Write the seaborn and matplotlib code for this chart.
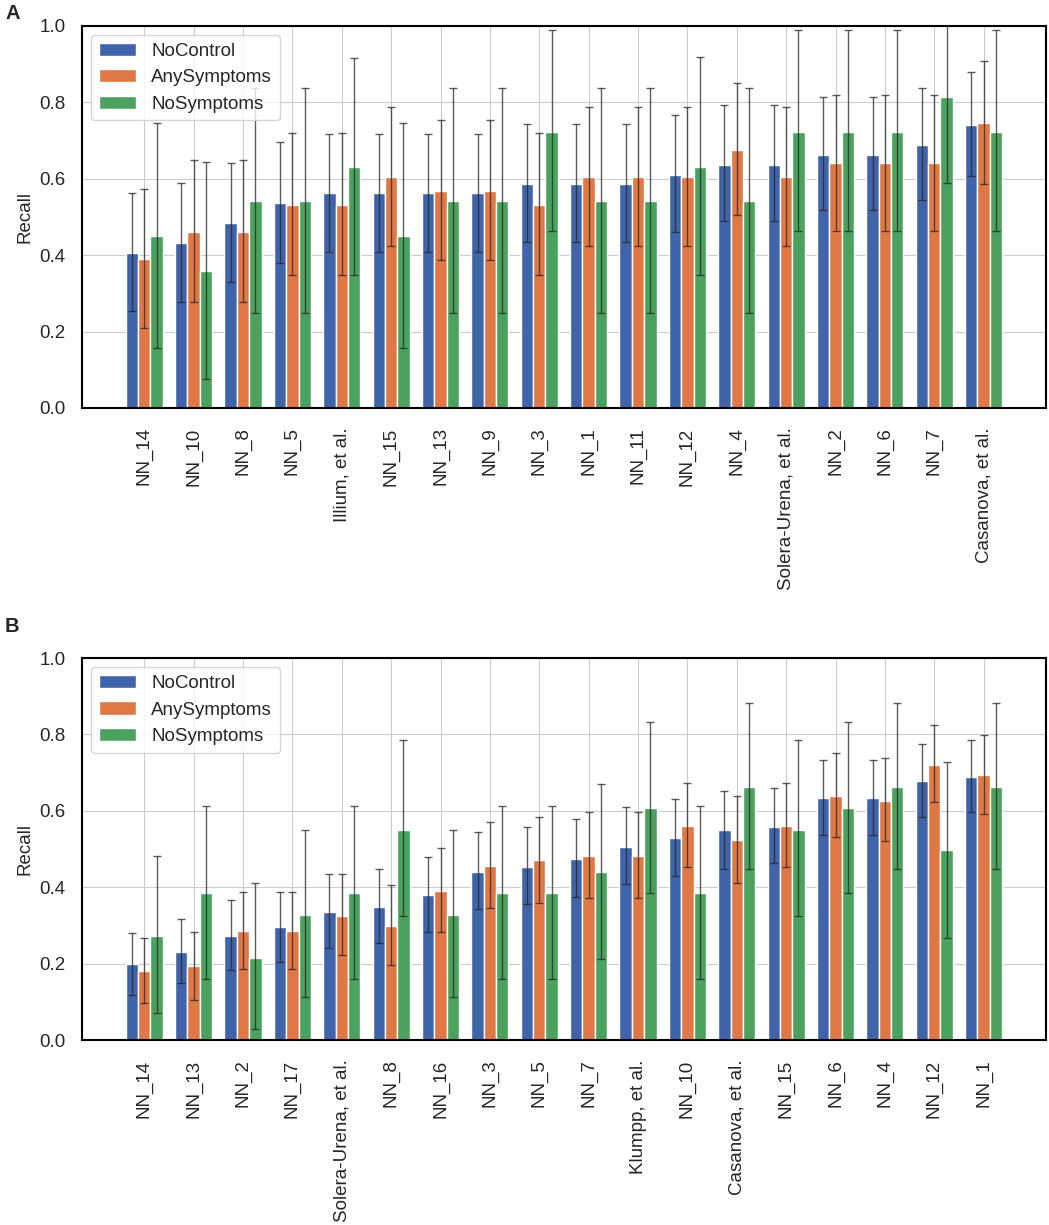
import numpy as np
import pandas as pd
import matplotlib
matplotlib.use("Agg")
import matplotlib.pyplot as plt
import seaborn as sns

# ---------------- DATA ----------------
groups = ["NoControl", "AnySymptoms", "NoSymptoms"]
colors = ["#4064aa", "#e07845", "#4aa25e"]

# Panel A
labels_a = ["NN_14", "NN_10", "NN_8", "NN_5", "Illium, et al.", "NN_15", "NN_13", "NN_9",
            "NN_3", "NN_1", "NN_11", "NN_12", "NN_4", "Solera-Urena, et al.", "NN_2",
            "NN_6", "NN_7", "Casanova, et al."]
a_noctrl = [0.405, 0.431, 0.483, 0.536, 0.562, 0.562, 0.562, 0.562, 0.586, 0.586, 0.586,
            0.610, 0.636, 0.636, 0.662, 0.662, 0.688, 0.740]
a_noctrl_lo = [0.255, 0.277, 0.329, 0.379, 0.408, 0.408, 0.408, 0.408, 0.434, 0.434, 0.434,
               0.460, 0.490, 0.490, 0.518, 0.518, 0.545, 0.607]
a_noctrl_hi = [0.564, 0.590, 0.642, 0.695, 0.716, 0.716, 0.716, 0.716, 0.743, 0.743, 0.743,
               0.766, 0.792, 0.792, 0.815, 0.815, 0.837, 0.880]
a_any = [0.389, 0.460, 0.460, 0.531, 0.531, 0.604, 0.568, 0.568, 0.532, 0.604, 0.604,
         0.604, 0.675, 0.604, 0.641, 0.641, 0.641, 0.747]
a_any_lo = [0.209, 0.277, 0.277, 0.348, 0.348, 0.424, 0.386, 0.386, 0.348, 0.424, 0.424,
            0.424, 0.505, 0.424, 0.463, 0.463, 0.463, 0.587]
a_any_hi = [0.573, 0.648, 0.648, 0.720, 0.720, 0.789, 0.753, 0.753, 0.721, 0.789, 0.789,
            0.789, 0.850, 0.789, 0.818, 0.818, 0.818, 0.908]
a_nosym = [0.450, 0.359, 0.542, 0.542, 0.632, 0.450, 0.542, 0.542, 0.723, 0.542, 0.542,
           0.632, 0.542, 0.723, 0.723, 0.723, 0.815, 0.723]
a_nosym_lo = [0.156, 0.076, 0.248, 0.248, 0.348, 0.156, 0.248, 0.248, 0.463, 0.248, 0.248,
              0.348, 0.248, 0.463, 0.463, 0.463, 0.590, 0.463]
a_nosym_hi = [0.747, 0.645, 0.837, 0.837, 0.917, 0.747, 0.837, 0.837, 0.990, 0.837, 0.837,
              0.918, 0.837, 0.990, 0.990, 0.990, 1.030, 0.990]

# Panel B
labels_b = ["NN_14", "NN_13", "NN_2", "NN_17", "Solera-Urena, et al.", "NN_8", "NN_16",
            "NN_3", "NN_5", "NN_7", "Klumpp, et al.", "NN_10", "Casanova, et al.", "NN_15",
            "NN_6", "NN_4", "NN_12", "NN_1"]
b_noctrl = [0.198, 0.230, 0.272, 0.295, 0.336, 0.347, 0.380, 0.441, 0.454, 0.474, 0.506,
            0.529, 0.549, 0.558, 0.633, 0.633, 0.679, 0.688]
b_noctrl_lo = [0.118, 0.148, 0.183, 0.203, 0.242, 0.253, 0.284, 0.342, 0.355, 0.375, 0.408,
               0.430, 0.449, 0.463, 0.537, 0.537, 0.583, 0.596]
b_noctrl_hi = [0.281, 0.316, 0.366, 0.388, 0.434, 0.448, 0.479, 0.545, 0.557, 0.578, 0.609,
               0.632, 0.651, 0.661, 0.732, 0.732, 0.775, 0.785]
b_any = [0.181, 0.194, 0.285, 0.285, 0.325, 0.298, 0.390, 0.456, 0.471, 0.483, 0.483,
         0.561, 0.524, 0.561, 0.639, 0.627, 0.720, 0.695]
b_any_lo = [0.096, 0.106, 0.186, 0.186, 0.223, 0.196, 0.284, 0.346, 0.358, 0.371, 0.371,
            0.452, 0.410, 0.452, 0.532, 0.522, 0.622, 0.592]
b_any_hi = [0.268, 0.284, 0.388, 0.388, 0.434, 0.405, 0.502, 0.571, 0.583, 0.597, 0.597,
            0.674, 0.640, 0.674, 0.752, 0.739, 0.824, 0.798]
b_nosym = [0.272, 0.386, 0.216, 0.327, 0.386, 0.551, 0.327, 0.386, 0.386, 0.441, 0.607,
           0.386, 0.662, 0.551, 0.607, 0.662, 0.497, 0.662]
b_nosym_lo = [0.070, 0.161, 0.028, 0.112, 0.161, 0.325, 0.112, 0.161, 0.161, 0.212, 0.384,
              0.161, 0.447, 0.325, 0.384, 0.447, 0.268, 0.447]
b_nosym_hi = [0.483, 0.613, 0.410, 0.550, 0.613, 0.785, 0.550, 0.613, 0.613, 0.671, 0.833,
              0.613, 0.883, 0.785, 0.833, 0.883, 0.729, 0.883]

# ---------------- STYLE ----------------
sns.set_style("whitegrid", {"axes.edgecolor": "black", "grid.color": "0.8"})
plt.rcParams["font.family"] = ["Liberation Sans", "DejaVu Sans"]
plt.rcParams["font.size"] = 13.5
FS = 13.5


def draw_panel(ax, labels, means, lows, highs):
    df = pd.DataFrame({
        "model": np.repeat([labels], len(groups), axis=0).ravel(),
        "group": np.repeat(groups, len(labels)),
        "recall": np.concatenate(means),
    })
    sns.barplot(data=df, x="model", y="recall", hue="group", order=labels,
                hue_order=groups, palette=colors, width=0.75, errorbar=None,
                saturation=1, edgecolor="white", linewidth=1, ax=ax)

    # asymmetric confidence intervals
    for cont, m, lo, hi in zip(ax.containers, means, lows, highs):
        m, lo, hi = np.array(m), np.array(lo), np.array(hi)
        xs = [b.get_x() + b.get_width() / 2 for b in cont]
        ax.errorbar(xs, m, yerr=[m - lo, hi - m], fmt="none", ecolor="0.15",
                    elinewidth=1, capsize=3, capthick=1, alpha=0.75, zorder=5)

    n = len(labels)
    ax.set_xlim(-1.26, n - 1 + 1.26)
    ax.set_ylim(0, 1)
    ax.set_yticks([0, 0.2, 0.4, 0.6, 0.8, 1.0])
    ax.xaxis.grid(True)
    ax.set_axisbelow(True)
    ax.set_xlabel("")
    ax.set_ylabel("Recall", fontsize=FS)
    ax.tick_params(axis="x", rotation=90, labelsize=FS, length=0, pad=14)
    ax.tick_params(axis="y", labelsize=FS, length=0, pad=12)
    for s in ax.spines.values():
        s.set_linewidth(1.5)
        s.set_color("black")
    ax.legend(loc="upper left", fontsize=FS, title=None)


fig = plt.figure(figsize=(10.49, 12.25), dpi=100)
ax_a = fig.add_axes([0.0782, 0.667, 0.9188, 0.3118])
ax_b = fig.add_axes([0.0782, 0.151, 0.9188, 0.3118])

draw_panel(ax_a, labels_a, [a_noctrl, a_any, a_nosym],
           [a_noctrl_lo, a_any_lo, a_nosym_lo], [a_noctrl_hi, a_any_hi, a_nosym_hi])
draw_panel(ax_b, labels_b, [b_noctrl, b_any, b_nosym],
           [b_noctrl_lo, b_any_lo, b_nosym_lo], [b_noctrl_hi, b_any_hi, b_nosym_hi])

fig.text(0.005, 0.9845, "A", fontsize=14.5, fontweight="bold")
fig.text(0.004, 0.484, "B", fontsize=14.5, fontweight="bold")

plt.savefig("out.png", dpi=100)
plt.close()
